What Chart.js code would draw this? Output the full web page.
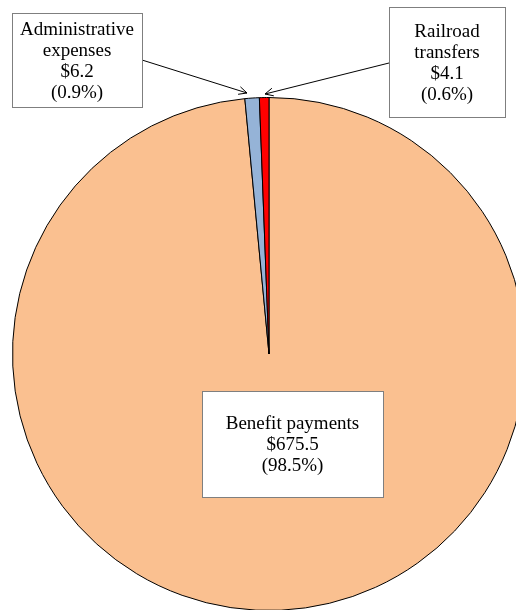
<!DOCTYPE html>
<html>
<head>
<meta charset="utf-8">
<script src="https://cdn.jsdelivr.net/npm/chart.js@4/dist/chart.umd.min.js"></script>
<style>
  html, body { margin: 0; padding: 0; background: #ffffff; }
  #frame { position: relative; width: 516px; height: 610px; overflow: hidden; }
  #pie { position: absolute; left: 0; top: 0; }
</style>
</head>
<body>
<div id="frame"><canvas id="pie" width="540" height="700"></canvas></div>
<script>
// Trust fund outlays, billions of dollars
const categories = ['Benefit payments', 'Administrative expenses', 'Railroad transfers'];
const amounts = [675.5, 6.2, 4.1];

const total = amounts.reduce((a, b) => a + b, 0);
const shares = amounts.map(v => (v / total * 100).toFixed(1));

// Callout boxes: which slice, where the box sits, whether the name wraps, arrow path
const callouts = [
  { index: 1, box: [12, 13, 130, 94], wrap: true,  arrow: [[142, 60], [247, 93]] },
  { index: 2, box: [389, 7, 116, 110], wrap: true, arrow: [[389, 63], [265, 94]] },
  { index: 0, box: [202, 391, 181, 106], wrap: false, arrow: null }
];

const FONT = '19px "Liberation Serif", "Times New Roman", serif';
const LINE_H = 21;

function drawArrow(ctx, from, to) {
  ctx.save();
  ctx.strokeStyle = '#000000';
  ctx.lineWidth = 1;
  ctx.beginPath();
  ctx.moveTo(from[0], from[1]);
  ctx.lineTo(to[0], to[1]);
  ctx.stroke();
  const ang = Math.atan2(to[1] - from[1], to[0] - from[0]);
  const len = 9, spread = Math.PI / 7;
  ctx.beginPath();
  ctx.moveTo(to[0] - len * Math.cos(ang - spread), to[1] - len * Math.sin(ang - spread));
  ctx.lineTo(to[0], to[1]);
  ctx.lineTo(to[0] - len * Math.cos(ang + spread), to[1] - len * Math.sin(ang + spread));
  ctx.stroke();
  ctx.restore();
}

const calloutPlugin = {
  id: 'callouts',
  afterDraw(chart) {
    const ctx = chart.ctx;
    const labels = chart.data.labels;
    const values = chart.data.datasets[0].data;
    callouts.forEach(c => {
      const [x, y, w, h] = c.box;
      if (c.arrow) drawArrow(ctx, c.arrow[0], c.arrow[1]);
      ctx.save();
      ctx.fillStyle = '#ffffff';
      ctx.fillRect(x, y, w, h);
      ctx.strokeStyle = '#7f7f7f';
      ctx.lineWidth = 1;
      ctx.strokeRect(x + 0.5, y + 0.5, w, h);
      const name = labels[c.index];
      const lines = (c.wrap ? name.split(' ') : [name]).concat([
        '$' + values[c.index].toFixed(1),
        '(' + shares[c.index] + '%)'
      ]);
      ctx.font = FONT;
      ctx.fillStyle = '#000000';
      ctx.textAlign = 'center';
      ctx.textBaseline = 'alphabetic';
      const cx = x + w / 2;
      const first = y + h / 2 - (lines.length - 1) / 2 * LINE_H + 6;
      lines.forEach((t, i) => ctx.fillText(t, cx, first + i * LINE_H));
      ctx.restore();
    });
  }
};

new Chart(document.getElementById('pie'), {
  type: 'pie',
  data: {
    labels: categories,
    datasets: [{
      data: amounts,
      backgroundColor: ['#fac090', '#95b3d7', '#ff0000'],
      borderColor: '#000000',
      borderWidth: 1
    }]
  },
  options: {
    responsive: false,
    animation: false,
    rotation: 0,
    layout: { padding: { left: 12, top: 97, right: 14, bottom: 89 } },
    plugins: {
      legend: { display: false },
      tooltip: { enabled: false }
    }
  },
  plugins: [calloutPlugin]
});
</script>
</body>
</html>
